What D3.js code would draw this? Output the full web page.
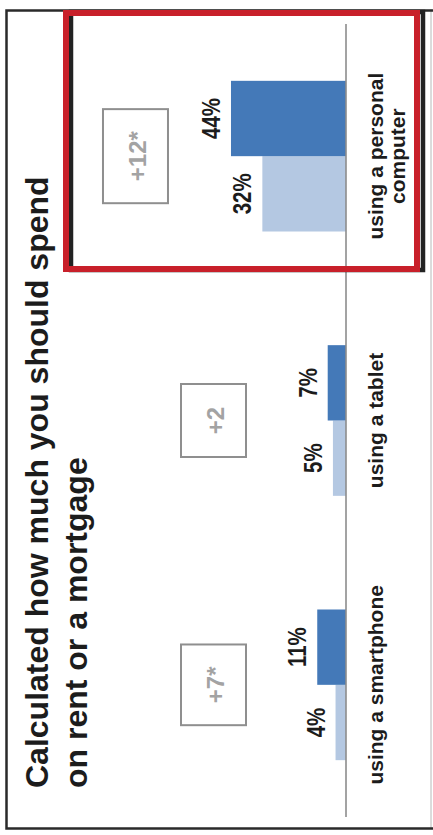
<!DOCTYPE html>
<html>
<head>
<meta charset="utf-8">
<script src="https://cdn.jsdelivr.net/npm/d3@7"></script>
<style>
  html, body { margin: 0; padding: 0; background: #fff; }
  svg { display: block; }
  text { font-family: "Liberation Sans", Arial, Helvetica, sans-serif; }
</style>
</head>
<body>
<svg id="chart" width="433" height="835"></svg>
<script>
// Share who calculated rent/mortgage budget, by device, earlier vs. later survey
const categories = ["using a smartphone", "using a tablet", "using a personal computer"];
const categoryLines = [["using a smartphone"], ["using a tablet"], ["using a personal", "computer"]];
const earlierValues = [4, 5, 32];
const laterValues = [11, 7, 44];
const changeLabels = ["+7*", "+2", "+12*"];
const titleLines = ["Calculated how much you should spend", "on rent or a mortgage"];

const W = 433, H = 835;
const svg = d3.select("#chart");

// Frame around the whole panel
svg.append("line").attr("x1", 431).attr("x2", 431).attr("y1", 9).attr("y2", 829)
  .attr("stroke", "#b8b8b8").attr("stroke-width", 1);
svg.append("path")
  .attr("d", "M433,10.5 H6.5 V828.5 H433")
  .attr("fill", "none").attr("stroke", "#2a2a2a").attr("stroke-width", 2.5);

// The chart is laid out upright, then turned a quarter turn counter-clockwise.
// Inner coordinates: u runs along the categories, v runs down the value axis.
const g = svg.append("g").attr("transform", `translate(0,${H}) rotate(-90)`);

const baseV = 346;
const y = d3.scaleLinear().domain([0, 50]).range([baseV, baseV - 130.7]);
const x0 = d3.scaleBand().domain(categories).range([18, 811])
  .paddingInner(0.43).paddingOuter(0.215);
const x1 = d3.scaleBand().domain(["earlier", "later"]).range([0, x0.bandwidth()]);

const colors = { earlier: "#b4c8e2", later: "#4479b8" };

const rows = categories.map((c, i) => ({
  cat: c, lines: categoryLines[i], change: changeLabels[i],
  bars: [
    { key: "earlier", value: earlierValues[i] },
    { key: "later", value: laterValues[i] }
  ]
}));

// Title
const title = g.append("text").attr("x", 47).attr("font-size", 32)
  .attr("font-weight", "bold").attr("fill", "#1c1c1c");
titleLines.forEach((t, i) => {
  title.append("tspan").attr("x", 47).attr("y", 48 + i * 39).text(t);
});

const groups = g.selectAll("g.group").data(rows).join("g")
  .attr("class", "group")
  .attr("transform", d => `translate(${x0(d.cat)},0)`);

// Bars
groups.selectAll("rect.bar").data(d => d.bars).join("rect")
  .attr("class", "bar")
  .attr("x", d => x1(d.key))
  .attr("width", x1.bandwidth())
  .attr("y", d => y(d.value))
  .attr("height", d => y(0) - y(d.value))
  .attr("fill", d => colors[d.key]);

// Value labels (condensed bold)
groups.selectAll("text.val").data(d => d.bars).join("text")
  .attr("class", "val")
  .attr("transform", d => `translate(${x1(d.key) + x1.bandwidth() / 2},${y(d.value) - 11}) scale(0.82,1)`)
  .attr("text-anchor", "middle")
  .attr("font-size", 25).attr("font-weight", "bold").attr("fill", "#1c1c1c")
  .text(d => d.value + "%");

// Category axis line
g.append("line")
  .attr("x1", x0.range()[0]).attr("x2", x0.range()[1])
  .attr("y1", baseV).attr("y2", baseV)
  .attr("stroke", "#8c8c8c").attr("stroke-width", 1.6);

// Category labels
const catText = groups.append("text")
  .attr("text-anchor", "middle")
  .attr("font-size", 21).attr("font-weight", "bold").attr("fill", "#1c1c1c");
catText.selectAll("tspan").data(d => d.lines).join("tspan")
  .attr("x", x0.bandwidth() / 2)
  .attr("y", (d, i) => 383 + i * 22)
  .text(d => d);

// Change boxes above each pair of bars
const boxH = 65;
groups.each(function (d) {
  const grp = d3.select(this);
  const top = d3.max(d.bars, b => b.value);
  const bottom = Math.min(246, y(top) - 63);
  const cx = x0.bandwidth() / 2;
  const label = grp.append("text")
    .attr("x", cx).attr("y", bottom - boxH / 2)
    .attr("dy", "0.45em")
    .attr("text-anchor", "middle")
    .attr("font-size", 24).attr("font-weight", "bold").attr("fill", "#a3a3a3")
    .text(d.change);
  const tw = label.node().getComputedTextLength();
  const bw = Math.max(73, tw + 44);
  grp.insert("rect", "text")
    .attr("x", cx - bw / 2).attr("width", bw)
    .attr("y", bottom - boxH).attr("height", boxH)
    .attr("fill", "#fff").attr("stroke", "#8f8f8f").attr("stroke-width", 2);
});

// Highlight around the personal computer column: dark offset frame under a red frame
svg.append("rect").attr("x", 71).attr("y", 12).attr("width", 352).attr("height", 258)
  .attr("fill", "none").attr("stroke", "#222").attr("stroke-width", 4.5);
svg.append("rect").attr("x", 66).attr("y", 13).attr("width", 351).attr("height", 256)
  .attr("fill", "none").attr("stroke", "#c8202a").attr("stroke-width", 6);
</script>
</body>
</html>
